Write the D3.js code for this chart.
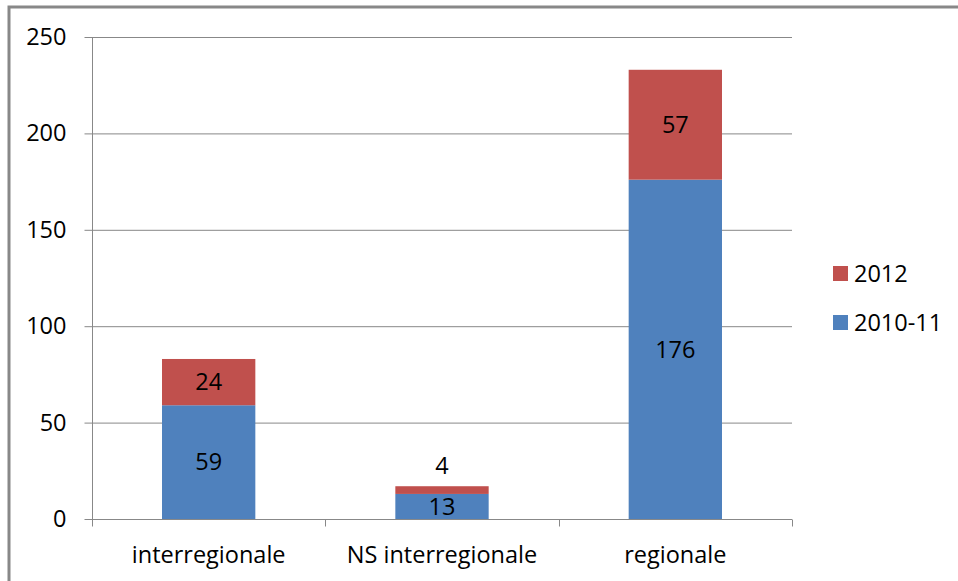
<!DOCTYPE html>
<html>
<head>
<meta charset="utf-8">
<script src="https://cdn.jsdelivr.net/npm/d3@7"></script>
<style>
  body { margin: 0; background: #fff; }
  text { font-family: "Open Sans", "Liberation Sans", sans-serif; fill: #000; }
</style>
</head>
<body>
<svg id="chart" width="958" height="581"></svg>
<script>
var categories = ['interregionale', 'NS interregionale', 'regionale'];
var seriesNames = ['2010-11', '2012'];
var values2010 = [59, 13, 176];
var values2012 = [24, 4, 57];
var yTicks = [0, 50, 100, 150, 200, 250];
var colors = ['#4F81BD', '#C0504D'];

var fontSize = '23.5px';
var margin = { left: 92, right: 166, top: 37, bottom: 62 };
var width = 958, height = 581;

var svg = d3.select('#chart');

// outer frame, only left and top edges visible in the crop
svg.append('path')
  .attr('d', 'M9,581V7H958')
  .attr('fill', 'none')
  .attr('stroke', '#888')
  .attr('stroke-width', 3);

var x = d3.scaleBand()
  .domain(categories)
  .range([margin.left, width - margin.right])
  .paddingInner(0.6)
  .paddingOuter(0.3);

var y = d3.scaleLinear()
  .domain([0, 250])
  .range([height - margin.bottom, margin.top]);

// gridlines
svg.append('g')
  .selectAll('line')
  .data(yTicks.slice(1))
  .enter()
  .append('line')
  .attr('x1', margin.left)
  .attr('x2', width - margin.right)
  .attr('y1', function (d) { return y(d) + 0.5; })
  .attr('y2', function (d) { return y(d) + 0.5; })
  .attr('stroke', '#888')
  .attr('stroke-width', 1);

var rows = categories.map(function (c, i) {
  return { cat: c, '2010-11': values2010[i], '2012': values2012[i] };
});
var stacked = d3.stack().keys(seriesNames)(rows);

var layers = svg.append('g')
  .selectAll('g')
  .data(stacked)
  .enter()
  .append('g')
  .attr('fill', function (d, i) { return colors[i]; });

layers.selectAll('rect')
  .data(function (d) { return d; })
  .enter()
  .append('rect')
  .attr('x', function (d) { return x(d.data.cat); })
  .attr('width', x.bandwidth())
  .attr('y', function (d) { return y(d[1]); })
  .attr('height', function (d) { return y(d[0]) - y(d[1]); });

// data labels
layers.selectAll('text')
  .data(function (d) { return d; })
  .enter()
  .append('text')
  .attr('x', function (d) { return x(d.data.cat) + x.bandwidth() / 2; })
  .attr('y', function (d) {
    var h = y(d[0]) - y(d[1]);
    if (h < 20) return y(d[1]) - 20;
    return (y(d[0]) + y(d[1])) / 2;
  })
  .attr('dy', '0.35em')
  .attr('text-anchor', 'middle')
  .style('font-size', fontSize)
  .text(function (d) { return d[1] - d[0]; });

// y axis
var yAxis = svg.append('g')
  .attr('transform', 'translate(' + (margin.left + 0.5) + ',0)')
  .call(d3.axisLeft(y).tickValues(yTicks).tickSize(8).tickPadding(18));
yAxis.select('.domain').attr('stroke', '#888').attr('d', 'M0,' + y(250) + 'V' + (y(0) + 0.5));
yAxis.selectAll('line').attr('stroke', '#888');
yAxis.selectAll('text').style('font-size', fontSize).attr('font-family', null);

// x axis
var xAxisY = y(0) + 0.5;
var xAxis = svg.append('g').attr('transform', 'translate(0,' + xAxisY + ')');
xAxis.append('line')
  .attr('x1', margin.left)
  .attr('x2', width - margin.right)
  .attr('stroke', '#888');
var boundaries = [0, 1, 2, 3].map(function (i) {
  return margin.left + (width - margin.right - margin.left) * i / 3;
});
xAxis.selectAll('.tick-mark')
  .data(boundaries)
  .enter()
  .append('line')
  .attr('x1', function (d) { return Math.round(d) + 0.5; })
  .attr('x2', function (d) { return Math.round(d) + 0.5; })
  .attr('y1', 0)
  .attr('y2', 7)
  .attr('stroke', '#888');
xAxis.selectAll('.cat-label')
  .data(categories)
  .enter()
  .append('text')
  .attr('x', function (d) { return x(d) + x.bandwidth() / 2; })
  .attr('y', 43)
  .attr('text-anchor', 'middle')
  .style('font-size', fontSize)
  .text(function (d) { return d; });

// legend
var legendItems = [
  { name: '2012', color: colors[1] },
  { name: '2010-11', color: colors[0] }
];
var legend = svg.append('g')
  .selectAll('g')
  .data(legendItems)
  .enter()
  .append('g')
  .attr('transform', function (d, i) { return 'translate(833,' + (266 + i * 49) + ')'; });
legend.append('rect')
  .attr('width', 15)
  .attr('height', 15)
  .attr('fill', function (d) { return d.color; });
legend.append('text')
  .attr('x', 21)
  .attr('y', 8)
  .attr('dy', '0.35em')
  .style('font-size', fontSize)
  .text(function (d) { return d.name; });
</script>
</body>
</html>
